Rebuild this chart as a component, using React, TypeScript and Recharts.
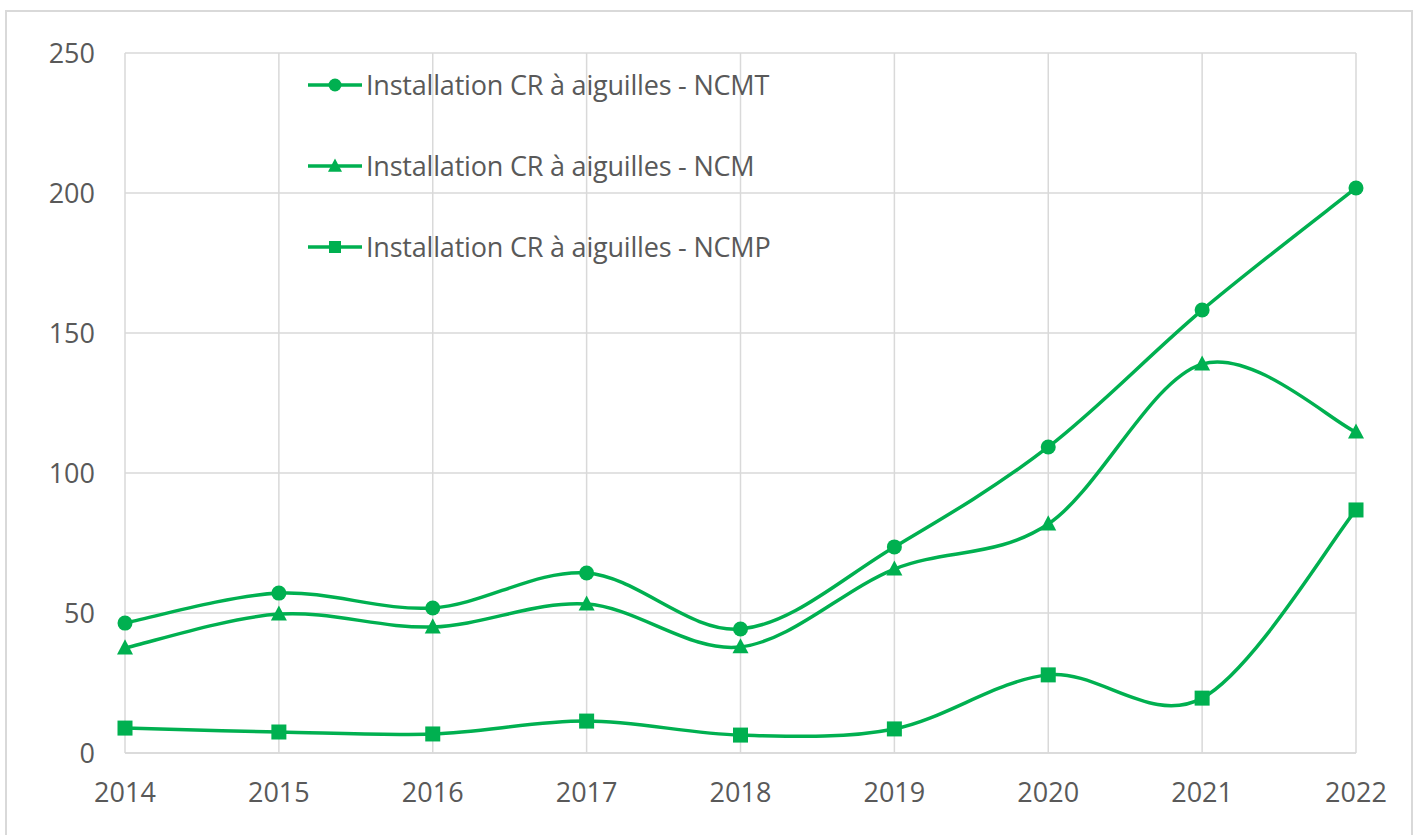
import React from 'react';
import { LineChart, Line, XAxis, YAxis, CartesianGrid, Legend } from 'recharts';

const years = ['2014', '2015', '2016', '2017', '2018', '2019', '2020', '2021', '2022'];
const ncmt = [46.4, 57.1, 51.8, 64.3, 44.3, 73.6, 109.3, 158.2, 201.8];
const ncm = [37.5, 49.6, 45.0, 53.2, 37.9, 65.7, 81.8, 138.9, 114.6];
const ncmp = [8.9, 7.5, 6.8, 11.4, 6.4, 8.6, 27.9, 19.6, 86.8];
const yTicks = [0, 50, 100, 150, 200, 250];

const seriesNames = {
  ncmt: 'Installation CR à aiguilles - NCMT',
  ncm: 'Installation CR à aiguilles - NCM',
  ncmp: 'Installation CR à aiguilles - NCMP',
};

const data = years.map((y, i) => ({ year: y, ncmt: ncmt[i], ncm: ncm[i], ncmp: ncmp[i] }));

const GREEN = '#00b050';
const FONT = '"Open Sans", sans-serif';

// Excel-like smoothed line (Catmull-Rom through points)
function excelCurve(context: any) {
  let pts: number[][] = [];
  return {
    areaStart() {},
    areaEnd() {},
    lineStart() {
      pts = [];
    },
    lineEnd() {
      const n = pts.length;
      if (!n) return;
      context.moveTo(pts[0][0], pts[0][1]);
      for (let i = 0; i < n - 1; i++) {
        const p0 = pts[i - 1] || pts[i];
        const p1 = pts[i];
        const p2 = pts[i + 1];
        const p3 = pts[i + 2] || p2;
        context.bezierCurveTo(
          p1[0] + (p2[0] - p0[0]) / 6,
          p1[1] + (p2[1] - p0[1]) / 6,
          p2[0] - (p3[0] - p1[0]) / 6,
          p2[1] - (p3[1] - p1[1]) / 6,
          p2[0],
          p2[1]
        );
      }
    },
    point(x: number, y: number) {
      pts.push([+x, +y]);
    },
  };
}

function Marker({ shape, cx, cy, s }: { shape: string; cx: number; cy: number; s: number }) {
  if (shape === 'circle') return <circle cx={cx} cy={cy} r={s / 2} fill={GREEN} />;
  if (shape === 'square')
    return <rect x={cx - s / 2} y={cy - s / 2} width={s} height={s} fill={GREEN} />;
  const h = s * 0.9;
  return (
    <polygon
      points={`${cx},${cy - h * 0.6} ${cx + s / 2},${cy + h * 0.45} ${cx - s / 2},${cy + h * 0.45}`}
      fill={GREEN}
    />
  );
}

const makeDot = (shape: string, s: number) => (props: any) => {
  const { cx, cy, index } = props;
  if (cx == null || cy == null) return <g key={index} />;
  return (
    <g key={`${shape}-${index}`}>
      <Marker shape={shape} cx={cx} cy={cy} s={s} />
    </g>
  );
};

const legendItems = [
  { key: 'ncmt', shape: 'circle', s: 13 },
  { key: 'ncm', shape: 'triangle', s: 14 },
  { key: 'ncmp', shape: 'square', s: 12 },
];

const LegendContent = () => (
  <div style={{ fontFamily: FONT, fontSize: 27, color: '#595959' }}>
    {legendItems.map((it) => (
      <div key={it.key} style={{ display: 'flex', alignItems: 'center', height: 81 }}>
        <svg width={58} height={20} style={{ display: 'block' }}>
          <line x1={0} y1={10} x2={54} y2={10} stroke={GREEN} strokeWidth={3.5} />
          <Marker shape={it.shape} cx={27} cy={10} s={it.s} />
        </svg>
        <span style={{ whiteSpace: 'nowrap', lineHeight: '32px', letterSpacing: -0.2 }}>
          {(seriesNames as any)[it.key]}
        </span>
      </div>
    ))}
  </div>
);

export default function App() {
  return (
    <div style={{ position: 'absolute', left: 0, top: 0, width: 1424, height: 835, background: '#fff', overflow: 'hidden' }}>
      <div
        style={{
          position: 'absolute',
          left: 5,
          top: 10,
          width: 1408,
          height: 840,
          border: '2px solid #d9d9d9',
          boxSizing: 'border-box',
        }}
      />
      <div style={{ position: 'absolute', left: 0, top: 0 }}>
        <LineChart
          width={1424}
          height={835}
          data={data}
          margin={{ top: 53, right: 68, bottom: 42, left: 65 }}
        >
          <CartesianGrid stroke="#d9d9d9" strokeWidth={1.5} />
          <XAxis
            dataKey="year"
            height={40}
            axisLine={{ stroke: '#d9d9d9', strokeWidth: 1.5 }}
            tickLine={false}
            tickSize={0}
            tickMargin={30}
            tick={{ fill: '#595959', fontSize: 27, fontFamily: FONT }}
            interval={0}
          />
          <YAxis
            width={60}
            domain={[0, 250]}
            ticks={yTicks}
            axisLine={false}
            tickLine={false}
            tickSize={0}
            tickMargin={30}
            tick={{ fill: '#595959', fontSize: 27, fontFamily: FONT }}
          />
          <Legend
            layout="vertical"
            align="center"
            verticalAlign="middle"
            content={LegendContent}
            wrapperStyle={{ position: 'absolute', left: 308, top: 44, width: 600 }}
          />
          <Line
            dataKey="ncmt"
            name={seriesNames.ncmt}
            stroke={GREEN}
            strokeWidth={3.5}
            type={excelCurve as any}
            dot={makeDot('circle', 15)}
            activeDot={false}
            isAnimationActive={false}
          />
          <Line
            dataKey="ncm"
            name={seriesNames.ncm}
            stroke={GREEN}
            strokeWidth={3.5}
            type={excelCurve as any}
            dot={makeDot('triangle', 16)}
            activeDot={false}
            isAnimationActive={false}
          />
          <Line
            dataKey="ncmp"
            name={seriesNames.ncmp}
            stroke={GREEN}
            strokeWidth={3.5}
            type={excelCurve as any}
            dot={makeDot('square', 15)}
            activeDot={false}
            isAnimationActive={false}
          />
        </LineChart>
      </div>
    </div>
  );
}
